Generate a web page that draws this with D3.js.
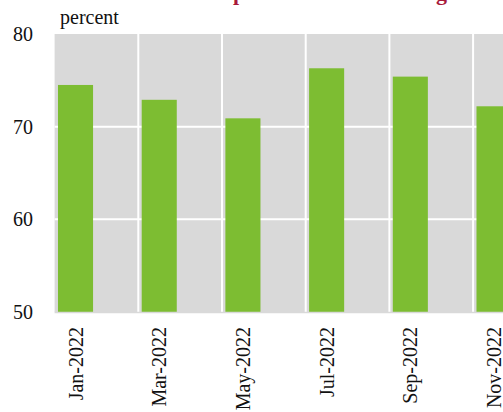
<!DOCTYPE html>
<html><head><meta charset="utf-8">
<script src="https://cdn.jsdelivr.net/npm/d3@7"></script>
<style>
html,body{margin:0;padding:0;background:#fff;overflow:hidden;}
svg{display:block;}
text{font-family:"Palatino Linotype","Book Antiqua",Palatino,"Liberation Serif","DejaVu Serif",serif;}
</style></head>
<body>
<script>
const titleText = "Consumers' Inflation Expectations Remain High in Hungary";
const unitLabel = "percent";
const months = ["Jan-2022","Feb-2022","Mar-2022","Apr-2022","May-2022","Jun-2022","Jul-2022","Aug-2022","Sep-2022","Oct-2022","Nov-2022","Dec-2022"];
const values = [74.5, null, 72.9, null, 70.9, null, 76.3, null, 75.4, null, 72.2, null];
const tickLabels = ["Jan-2022","Mar-2022","May-2022","Jul-2022","Sep-2022","Nov-2022"];
const yTicks = [50, 60, 70, 80];

const W = 503, H = 412;
const mLeft = 54.6, mTop = 34, mBottom = 312;
const step = 41.85;
const FONT = '"Palatino Linotype","Book Antiqua",Palatino,"Liberation Serif",serif';

const svg = d3.select("body").append("svg").attr("width", W).attr("height", H);

const x = d3.scaleBand().domain(months).range([mLeft, mLeft + step * months.length]).paddingInner(0).paddingOuter(0);
const y = d3.scaleLinear().domain([50, 80]).range([mBottom, mTop]);
const inset = x.bandwidth() * 0.081;

// plot background
svg.append("rect").attr("x", mLeft).attr("y", mTop)
  .attr("width", x.range()[1] - mLeft).attr("height", mBottom - mTop)
  .attr("fill", "#d9d9d9");

// horizontal gridlines
svg.append("g").selectAll("line").data(yTicks.filter(d => d > 50 && d < 80)).join("line")
  .attr("x1", mLeft).attr("x2", x.range()[1])
  .attr("y1", d => y(d)).attr("y2", d => y(d))
  .attr("stroke", "#fff").attr("stroke-width", 2);

// vertical gridlines at labelled month starts
svg.append("g").selectAll("line").data(tickLabels.slice(1)).join("line")
  .attr("x1", d => x(d)).attr("x2", d => x(d))
  .attr("y1", mTop).attr("y2", mBottom)
  .attr("stroke", "#fff").attr("stroke-width", 2);

// bars
const data = months.map((m, i) => ({m, v: values[i]})).filter(d => d.v != null);
svg.append("g").selectAll("rect").data(data).join("rect")
  .attr("x", d => x(d.m) + inset)
  .attr("width", x.bandwidth() - 2 * inset)
  .attr("y", d => y(d.v))
  .attr("height", d => y(50) - y(d.v))
  .attr("fill", "#7dbd32");

// bottom axis line
svg.append("line").attr("x1", mLeft).attr("x2", x.range()[1])
  .attr("y1", mBottom + 0.5).attr("y2", mBottom + 0.5)
  .attr("stroke", "#d9d9d9").attr("stroke-width", 1.5);

// y tick labels
const yAxis = d3.axisLeft(y).tickValues(yTicks).tickSize(0).tickPadding(0).tickFormat(d3.format("d"));
const ya = svg.append("g").attr("transform", `translate(33,0)`).call(yAxis);
ya.select(".domain").remove();
ya.selectAll("text").attr("font-size", 20).attr("fill", "#111").attr("font-family", FONT);

// x tick labels
const xAxis = d3.axisBottom(x).tickValues(tickLabels).tickSize(0).tickPadding(0);
const xa = svg.append("g").attr("transform", `translate(0,${mBottom})`).call(xAxis);
xa.select(".domain").remove();
xa.selectAll("text")
  .attr("font-size", 20).attr("fill", "#111").attr("font-family", FONT)
  .attr("text-anchor", "end")
  .attr("transform", "rotate(-90)")
  .attr("x", -15).attr("y", 0).attr("dy", "0.35em");

// unit label
svg.append("text").attr("x", 60).attr("y", 24).attr("font-size", 20).attr("fill", "#111").text(unitLabel);

// title (cut off at top, as in the source)
svg.append("text").attr("x", 2).attr("y", 0).attr("font-size", 22).attr("font-weight", "bold")
  .attr("fill", "#a8193a").text(titleText);
</script>
</body></html>
